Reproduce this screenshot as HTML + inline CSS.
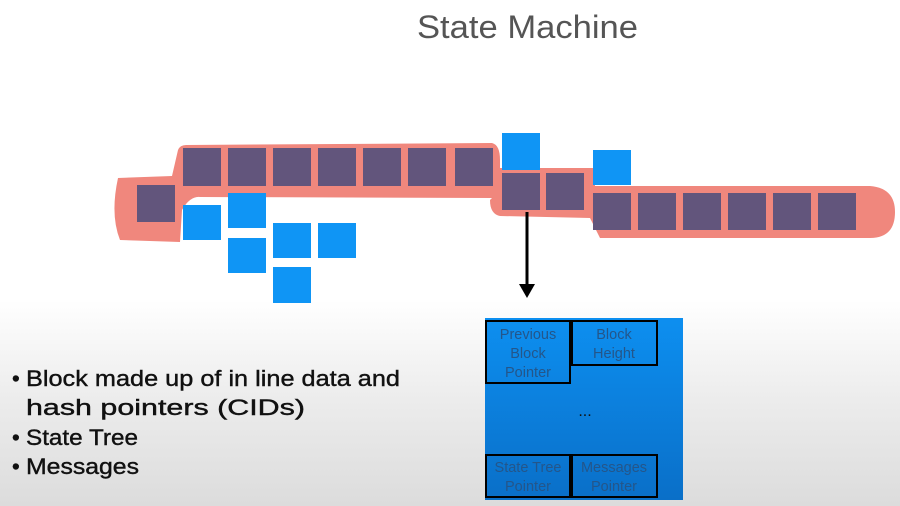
<!DOCTYPE html>
<html><head><style>
body{margin:0;width:900px;height:506px;overflow:hidden;background:linear-gradient(#fff 0,#fff 300px,#ececec 400px,#dcdcdc 506px);font-family:"Liberation Sans",sans-serif;}
</style></head><body>
<svg width="900" height="506" style="position:absolute;left:0;top:0">
<text x="417" y="38" font-size="32" fill="#555" textLength="221" lengthAdjust="spacingAndGlyphs">State Machine</text>
<g fill="#f0877d">
<path d="M118 178 L172 176 L178 150 Q180 145 186 145 L492 143 Q500 145 500 160 L500 168 L595 168 L595 186 L870 186 Q895 188 895 212 Q895 238 870 238 L600 238 L590 218 L500 216 Q490 214 490 200 L492 198 L200 197 Q190 196 182 210 L180 242 L120 240 Q110 215 118 178 Z"/>
</g>
<g fill="#62557c">
<rect x="137" y="185" width="38" height="37"/>
<rect x="183" y="148" width="38" height="38"/><rect x="228" y="148" width="38" height="38"/><rect x="273" y="148" width="38" height="38"/><rect x="318" y="148" width="38" height="38"/><rect x="363" y="148" width="38" height="38"/><rect x="408" y="148" width="38" height="38"/><rect x="455" y="148" width="38" height="38"/>
<rect x="502" y="173" width="38" height="37"/><rect x="546" y="173" width="38" height="37"/>
<rect x="593" y="193" width="38" height="37"/><rect x="638" y="193" width="38" height="37"/><rect x="683" y="193" width="38" height="37"/><rect x="728" y="193" width="38" height="37"/><rect x="773" y="193" width="38" height="37"/><rect x="818" y="193" width="38" height="37"/>
</g>
<g fill="#0f95f5">
<rect x="502" y="133" width="38" height="37"/><rect x="593" y="150" width="38" height="35"/>
<rect x="183" y="205" width="38" height="35"/><rect x="228" y="193" width="38" height="35"/><rect x="228" y="238" width="38" height="35"/><rect x="273" y="223" width="38" height="35"/><rect x="318" y="223" width="38" height="35"/><rect x="273" y="267" width="38" height="36"/>
</g>
<line x1="527" y1="212" x2="527" y2="286" stroke="#000" stroke-width="3"/>
<polygon points="519,284 535,284 527,298" fill="#000"/>
<defs><linearGradient id="g" x1="0" y1="0" x2="0" y2="1"><stop offset="0" stop-color="#0d8ff0"/><stop offset="1" stop-color="#0a6fc8"/></linearGradient></defs>
<rect x="485" y="318" width="198" height="182" fill="url(#g)"/>
<g fill="none" stroke="#000" stroke-width="2">
<rect x="486" y="321" width="84" height="62"/><rect x="572" y="321" width="85" height="44"/>
<rect x="486" y="455" width="84" height="42"/><rect x="572" y="455" width="85" height="42"/>
</g>
<g font-size="14.5" fill="#24568a" text-anchor="middle">
<text x="528" y="339">Previous</text><text x="528" y="358">Block</text><text x="528" y="377">Pointer</text>
<text x="614" y="339">Block</text><text x="614" y="358">Height</text>
<text x="528" y="472">State Tree</text><text x="528" y="491">Pointer</text>
<text x="614" y="472">Messages</text><text x="614" y="491">Pointer</text>
<text x="585" y="416" fill="#111" font-size="16">...</text>
</g>
<g font-size="22" fill="#111" stroke="#111" stroke-width="0.4">
<text x="12" y="386">•</text><text x="26" y="386" textLength="374" lengthAdjust="spacingAndGlyphs">Block made up of in line data and</text>
<text x="26" y="415" textLength="279" lengthAdjust="spacingAndGlyphs">hash pointers (CIDs)</text>
<text x="12" y="445">•</text><text x="26" y="445" textLength="112" lengthAdjust="spacingAndGlyphs">State Tree</text>
<text x="12" y="474">•</text><text x="26" y="474" textLength="113" lengthAdjust="spacingAndGlyphs">Messages</text>
</g>
</svg>
</body></html>
